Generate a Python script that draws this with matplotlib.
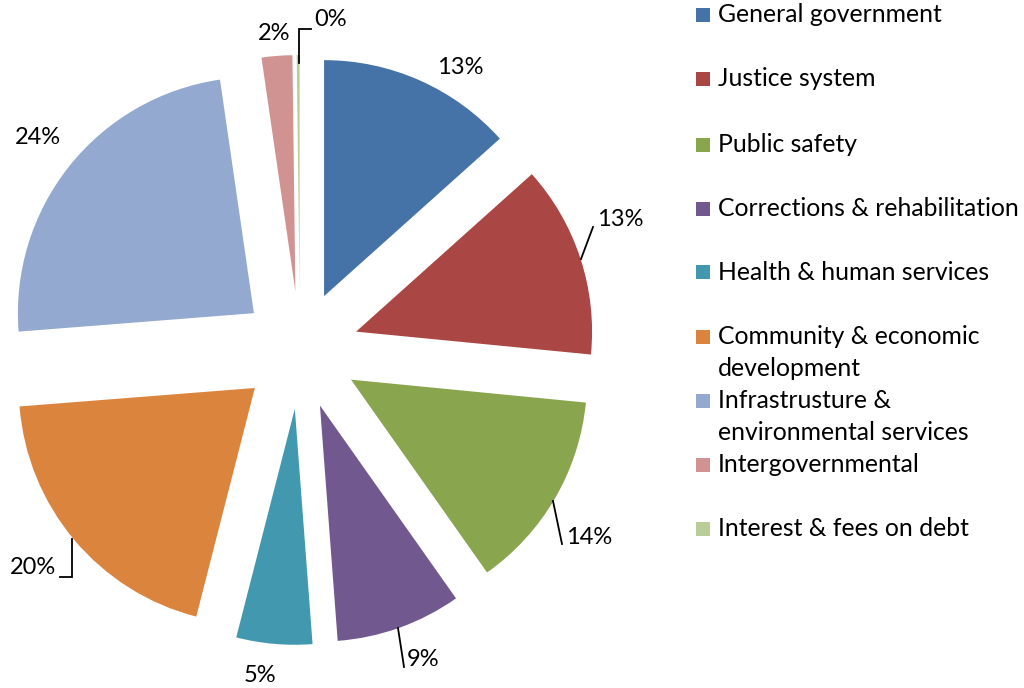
import matplotlib
matplotlib.use("Agg")
import matplotlib.pyplot as plt
from matplotlib.patches import Rectangle

plt.rcParams['font.family'] = ['Lato', 'DejaVu Sans']

# ---- data ----
categories = ["General government", "Justice system", "Public safety",
              "Corrections & rehabilitation", "Health & human services",
              "Community & economic\ndevelopment",
              "Infrastrusture &\nenvironmental services",
              "Intergovernmental", "Interest & fees on debt"]
shares = [13.4, 13.2, 13.7, 8.6, 5.2, 19.8, 24.0, 2.1, 0.2]
colors = ["#4572A7", "#AA4643", "#89A54E", "#71588F", "#4198AF",
          "#DB843D", "#93A9CF", "#D19392", "#B9CD96"]

# ---- layout (pixels) ----
W, H = 1024, 688
R = 236.0          # pie radius in px
CX, CY = 300, 350  # pie centre in px (y from top)

fig = plt.figure(figsize=(W / 100, H / 100), dpi=100)
ax = fig.add_axes([0, 0, 1, 1])

def P(px, py):
    return px / R, (H - py) / R

total = sum(shares)
wedges, _ = ax.pie(shares, colors=colors, startangle=90, counterclock=False,
                   explode=[0.25] * len(shares), radius=1.0,
                   center=P(CX, CY), wedgeprops=dict(linewidth=0))
ax.set_xlim(0, W / R)
ax.set_ylim(0, H / R)
ax.set_aspect('equal')
ax.axis('off')

pct = [f"{round(v / total * 100):.0f}%" for v in shares]

# label placement: (x, y, ha) in px, and optional leader line points
label_pos = [
    (460, 67, 'center', None),
    (597, 219, 'left', [(581, 259), (593, 227)]),
    (566, 537, 'left', [(553, 501), (562, 544)]),
    (407, 660, 'left', [(398, 628), (404, 667)]),
    (260, 675, 'center', None),
    (56, 568, 'right', [(60, 577), (72, 577), (72, 539)]),
    (38, 137, 'center', None),
    (274, 34, 'center', None),
    (314, 19, 'left', [(299, 63), (299, 29), (311, 29)]),
]
fs_pct = 17
for txt, (lx, ly, ha, line) in zip(pct, label_pos):
    ax.text(*P(lx, ly), txt, ha=ha, va='center', fontsize=fs_pct, color='black')
    if line:
        xs, ys = zip(*[P(a, b) for a, b in line])
        ax.plot(xs, ys, color='black', lw=1.3, solid_joinstyle='miter')

# legend (manual)
fs_leg = 17.8
legend_rows = [15, 79, 145, 209, 272, 337, 401, 465, 529]
line_step = 31
for cat, col, y in zip(categories, colors, legend_rows):
    x0, y0 = P(696, y + 7)
    ax.add_patch(Rectangle((x0, y0), 14 / R, 14 / R, facecolor=col,
                           edgecolor='none'))
    for i, part in enumerate(cat.split('\n')):
        ax.text(*P(718, y + i * line_step), part, ha='left', va='center',
                fontsize=fs_leg, color='black')

fig.savefig("out.png", dpi=100)
